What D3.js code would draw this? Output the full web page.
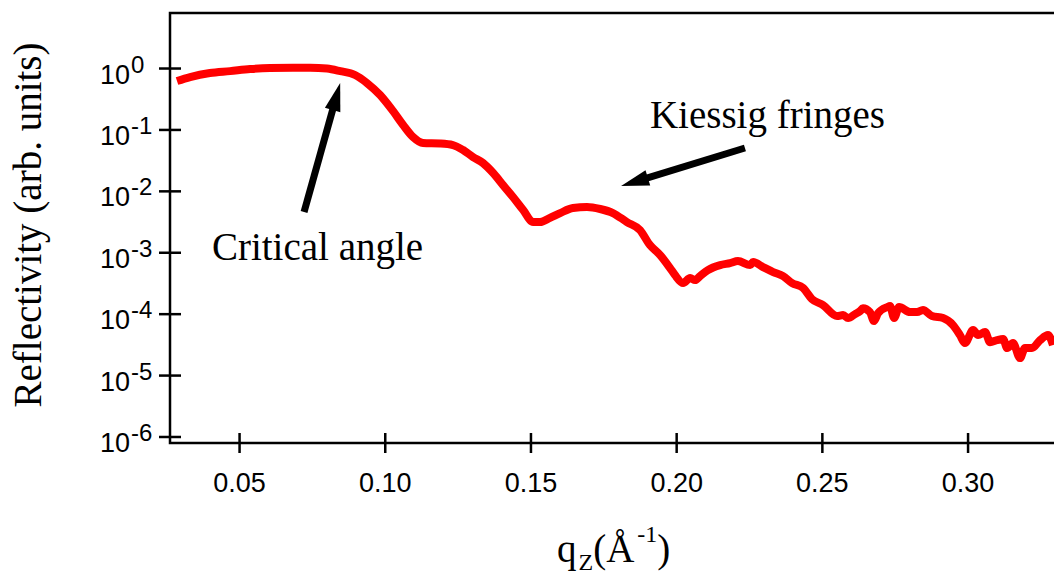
<!DOCTYPE html>
<html>
<head>
<meta charset="utf-8">
<script src="https://cdn.jsdelivr.net/npm/d3@7"></script>
<style>
  html, body { margin: 0; padding: 0; background: #fff; }
  svg { display: block; }
</style>
</head>
<body>
<svg id="chart" width="1054" height="574"></svg>
<script>
// ---- data ----
const qValues = [
  0.0287, 0.0332, 0.0400, 0.0469, 0.0538, 0.0606, 0.0685, 0.0744, 0.0802, 0.0847,
  0.0898, 0.0939, 0.0984, 0.1028, 0.1063, 0.1097, 0.1131, 0.1190, 0.1234, 0.1269,
  0.1303, 0.1337, 0.1372, 0.1406, 0.1440, 0.1475, 0.1509, 0.1533, 0.1567, 0.1602,
  0.1646, 0.1694, 0.1739, 0.1783, 0.1831, 0.1876, 0.1910, 0.1945, 0.1979, 0.1996,
  0.2024, 0.2048, 0.2065, 0.2082, 0.2109, 0.2151, 0.2185, 0.2212, 0.2254, 0.2264,
  0.2298, 0.2333, 0.2367, 0.2398, 0.2436, 0.2466, 0.2504, 0.2552, 0.2573, 0.2590,
  0.2614, 0.2631, 0.2641, 0.2665, 0.2679, 0.2693, 0.2724, 0.2734, 0.2748, 0.2765,
  0.2803, 0.2827, 0.2847, 0.2878, 0.2916, 0.2950, 0.2974, 0.2991, 0.3019, 0.3036,
  0.3060, 0.3077, 0.3101, 0.3122, 0.3136, 0.3156, 0.3180, 0.3197, 0.3221, 0.3249,
  0.3276, 0.3293
];
const reflectivity = [
  0.614, 0.713, 0.83, 0.89, 0.96, 1.0, 1.01, 1.01, 0.98, 0.89,
  0.77, 0.57, 0.363, 0.2, 0.118, 0.0752, 0.0601, 0.0589, 0.0557, 0.0462,
  0.0355, 0.0284, 0.0195, 0.0124, 0.00794, 0.00487, 0.0031, 0.0031, 0.00363, 0.00435,
  0.00525, 0.00545, 0.00506, 0.00435, 0.0031, 0.0023, 0.00131, 0.0009, 0.000553, 0.000425,
  0.000315, 0.00038, 0.000352, 0.000409, 0.000513, 0.000619, 0.000667, 0.000719, 0.000619, 0.000692,
  0.000574, 0.000476, 0.000409, 0.000315, 0.000261, 0.000173, 0.000138, 9.14e-5, 9.48e-5, 8.47e-5,
  9.84e-5, 1.10e-4, 1.23e-4, 1.06e-4, 7.57e-5, 1.02e-4, 1.28e-4, 1.33e-4, 8.47e-5, 1.28e-4,
  1.06e-4, 1.06e-4, 1.15e-4, 9.14e-5, 8.47e-5, 6.52e-5, 4.48e-5, 3.32e-5, 5.41e-5, 4.48e-5,
  5.01e-5, 3.44e-5, 3.71e-5, 3.86e-5, 2.75e-5, 3.32e-5, 1.89e-5, 2.75e-5, 2.75e-5, 3.71e-5,
  4.48e-5, 3.08e-5
];
const xTickValues = [0.05, 0.10, 0.15, 0.20, 0.25, 0.30];
const xTickLabels = ["0.05", "0.10", "0.15", "0.20", "0.25", "0.30"];
const yTickExponents = [0, -1, -2, -3, -4, -5, -6];
const xDomain = [0.0263, 0.3320];
const yDomain = [Math.pow(10, -6.106), Math.pow(10, 0.896)];
const yTitle = "Reflectivity (arb. units)";
// annotations: label, text position (q, R), arrow tail (q, R), arrow tip (q, R)
const annoLabels = ["Critical angle", "Kiessig fringes"];
const annoTextPos = [[0.0407, 7.46e-4], [0.1910, 0.1054]];
const annoTail = [[0.0723, 0.00452], [0.2236, 0.0498]];
const annoTip = [[0.0847, 0.57], [0.1811, 0.01197]];

// ---- layout ----
const plotLeft = 170, plotTop = 13, plotBottom = 443;
const svg = d3.select("#chart");
const SANS = "'Liberation Sans', Arial, sans-serif";
const SERIF = "'Liberation Serif', 'Times New Roman', serif";

const x = d3.scaleLinear().domain(xDomain).range([plotLeft, plotLeft + (xDomain[1] - xDomain[0]) * 2914]);
const y = d3.scaleLog().domain(yDomain).range([plotBottom, plotTop]);

svg.append("rect").attr("width", 1054).attr("height", 574).attr("fill", "#fff");

// frame
svg.append("rect")
  .attr("x", plotLeft).attr("y", plotTop)
  .attr("width", 960).attr("height", plotBottom - plotTop)
  .attr("fill", "none").attr("stroke", "#000").attr("stroke-width", 2.5);

// x axis
const xAxis = svg.append("g").attr("transform", `translate(0,${plotBottom})`)
  .call(d3.axisBottom(x).tickValues(xTickValues).tickFormat((d, i) => xTickLabels[i]).tickSize(10));
xAxis.select(".domain").remove();
xAxis.selectAll(".tick line").attr("y1", -10).attr("y2", 10)
  .attr("stroke", "#000").attr("stroke-width", 2.5);
xAxis.selectAll(".tick text").attr("y", 49).attr("dy", 0)
  .attr("font-family", SANS).attr("font-size", 27).attr("fill", "#000");

// y axis
const yTickVals = yTickExponents.map(e => Math.pow(10, e));
const yAxis = svg.append("g").attr("transform", `translate(${plotLeft},0)`)
  .call(d3.axisLeft(y).tickValues(yTickVals).tickFormat("").tickSize(11));
yAxis.select(".domain").remove();
yAxis.selectAll(".tick line").attr("x1", -11).attr("x2", 11)
  .attr("stroke", "#000").attr("stroke-width", 2.5);
yAxis.selectAll(".tick").each(function(d, i) {
  const t = d3.select(this).append("text")
    .attr("x", -70).attr("y", 15).attr("text-anchor", "start")
    .attr("font-family", SANS).attr("font-size", 27).attr("fill", "#000");
  t.append("tspan").text("10");
  t.append("tspan").attr("dy", -11).attr("dx", 1).attr("font-size", 24).text(String(yTickExponents[i]));
});

// y title
svg.append("text")
  .attr("transform", `translate(41,225) rotate(-90)`)
  .attr("text-anchor", "middle")
  .attr("font-family", SERIF).attr("font-size", 39).attr("fill", "#000")
  .text(yTitle);

// x title q_Z(Å^-1)
const xt = svg.append("text")
  .attr("x", 557).attr("y", 562)
  .attr("font-family", SERIF).attr("font-size", 39).attr("fill", "#000");
xt.append("tspan").text("q");
xt.append("tspan").attr("font-size", 24).attr("dy", 8).attr("dx", 2).text("Z");
xt.append("tspan").attr("dy", -8).text("(Å");
xt.append("tspan").attr("font-size", 24).attr("dy", -20).attr("dx", 3).text("-1");
xt.append("tspan").attr("dy", 20).text(")");

// curve
const data = qValues.map((q, i) => [q, reflectivity[i]]);
svg.append("path")
  .datum(data)
  .attr("fill", "none")
  .attr("stroke", "#ff0000")
  .attr("stroke-width", 8)
  .attr("stroke-linejoin", "round")
  .attr("d", d3.line().x(d => x(d[0])).y(d => y(d[1])).curve(d3.curveMonotoneX));

// annotations
annoLabels.forEach((lab, i) => {
  svg.append("text")
    .attr("x", x(annoTextPos[i][0])).attr("y", y(annoTextPos[i][1]))
    .attr("font-family", SERIF).attr("font-size", 39).attr("fill", "#000")
    .text(lab);
  const x0 = x(annoTail[i][0]), y0 = y(annoTail[i][1]);
  const x1 = x(annoTip[i][0]), y1 = y(annoTip[i][1]);
  const dx = x1 - x0, dy = y1 - y0, L = Math.hypot(dx, dy);
  const ux = dx / L, uy = dy / L, px = -uy, py = ux;
  const headLen = 28, headW = 8;
  const bx = x1 - ux * headLen, by = y1 - uy * headLen;
  svg.append("line")
    .attr("x1", x0).attr("y1", y0).attr("x2", bx + ux * 2).attr("y2", by + uy * 2)
    .attr("stroke", "#000").attr("stroke-width", 7);
  svg.append("path")
    .attr("d", `M${x1},${y1}L${bx + px * headW},${by + py * headW}L${bx - px * headW},${by - py * headW}Z`)
    .attr("fill", "#000");
});
</script>
</body>
</html>
